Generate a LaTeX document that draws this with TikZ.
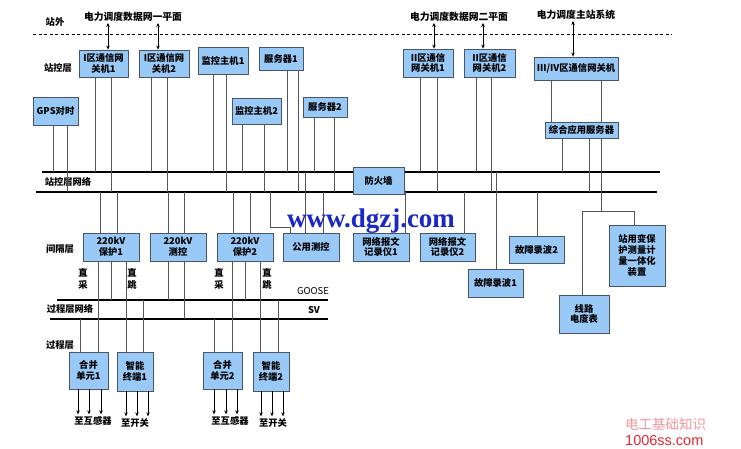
\documentclass[tikz,border=0pt]{standalone}
\usepackage{fontspec}
\setmainfont{Noto Sans CJK SC}
\newfontfamily\wmserif{Liberation Serif}
\newfontfamily\wmsans{Liberation Sans}
\usetikzlibrary{arrows.meta}
\definecolor{boxfill}{RGB}{153,201,246}
\definecolor{boxline}{RGB}{72,86,104}
\definecolor{connc}{RGB}{85,85,85}
\definecolor{wmblue}{RGB}{28,40,196}
\definecolor{wmpink}{RGB}{240,150,160}
\definecolor{wmred}{RGB}{226,40,50}
\newcommand\bx[6]{\node[box,minimum width=\fpeval{#4-#2}pt,minimum height=\fpeval{#5-#3}pt] (#1) at ({(#2+#4)/2},{(#3+#5)/2}) {#6};}
\newcommand\vc[3]{\draw[conn] (#2 -| #1,0) -- (#3 -| #1,0);}
\begin{document}
\begin{tikzpicture}[x=1pt,y=-1pt,
  box/.style={draw=boxline,fill=boxfill,line width=0.8pt,inner sep=1pt,align=center,
    font=\bfseries\fontsize{9.3}{10.8}\selectfont},
  conn/.style={draw=connc,line width=0.9pt},
  net/.style={draw=black,line width=1.6pt},
  lbl/.style={inner sep=1pt,align=center,font=\bfseries\fontsize{9.3}{12}\selectfont},
  toplbl/.style={inner sep=1pt,font=\bfseries\fontsize{9.8}{11}\selectfont},
  darr/.style={line width=0.7pt,{Stealth[length=4pt,width=3.5pt]}-{Stealth[length=4pt,width=3.5pt]}},
  dnarr/.style={line width=0.7pt,-{Stealth[length=4pt,width=3.5pt]}}]
\useasboundingbox (0,0) rectangle (741,448);
\fill[white] (0,0) rectangle (741,448);

% reference coordinates of the buses
\coordinate (netA) at (0,172);
\coordinate (netB) at (0,192);
\coordinate (goose) at (0,300);
\coordinate (sv) at (0,319);
\coordinate (barz) at (0,211);

% dashed border station / outside
\draw[line width=0.7pt,dash pattern=on 3pt off 2.5pt] (33,34) -- (672,34);

% buses
\draw[net] (42,172) -- (660,172);
\draw[net] (36,192) -- (657,192);
\draw[net] (57,300) -- (328,300);
\draw[net] (50,319) -- (328,319);

% left labels
\node[lbl] (l1) at (55,22) {站外};
\node[lbl] (l2) at (58,68) {站控层};
\node[lbl] (l3) at (68,182) {站控层网络};
\node[lbl] (l4) at (60,249) {间隔层};
\node[lbl] (l5) at (70,309) {过程层网络};
\node[lbl] (l6) at (60,345) {过程层};
\node[inner sep=1pt,font=\fontsize{9.5}{10}\selectfont] (lg) at (313,291) {GOOSE};
\node[lbl] (lsv) at (314,310) {SV};

% top labels
\node[toplbl] (t1) at (133,17) {电力调度数据网一平面};
\node[toplbl] (t2) at (459,17) {电力调度数据网二平面};
\node[toplbl] (t3) at (576,15) {电力调度主站系统};

% boxes
\bx{gw1}{79}{50}{128}{77}{I区通信网\\关机1}
\bx{gw2}{139}{50}{189}{77}{I区通信网\\关机2}
\bx{mon1}{198}{47}{248}{74}{监控主机1}
\bx{srv1}{259}{47}{303}{70}{服务器1}
\bx{mon2}{232}{98}{281}{124}{监控主机2}
\bx{srv2}{303}{97}{347}{117}{服务器2}
\bx{gps}{33}{97}{78}{125}{GPS对时}
\bx{ii1}{403}{49}{453}{77}{II区通信\\网关机1}
\bx{ii2}{464}{49}{515}{77}{II区通信\\网关机2}
\bx{p1}{83}{233}{139}{261}{220kV\\保护1}
\bx{ck}{150}{233}{206}{261}{220kV\\测控}
\bx{p2}{217}{233}{273}{261}{220kV\\保护2}
\bx{gyck}{283}{233}{339}{261}{公用测控}
\bx{rec1}{353}{233}{409}{261}{网络报文\\记录仪1}
\bx{rec2}{420}{233}{475}{261}{网络报文\\记录仪2}
\bx{gz2}{509}{236}{564}{263}{故障录波2}
\bx{gz1}{468}{269}{523}{297}{故障录波1}
\bx{zyb}{609}{225}{665}{286}{站用变保\\护测量计\\量一体化\\装置}
\bx{db}{559}{295}{609}{333}{线路\\电度表}
\bx{mu1}{69}{352}{108}{389}{合并\\单元1}
\bx{it1}{117}{352}{153}{391}{智能\\终端1}
\bx{mu2}{203}{352}{242}{389}{合并\\单元2}
\bx{it2}{253}{352}{289}{391}{智能\\终端2}
\bx{gw34}{534}{57}{618}{80}{III/IV区通信网关机}
\bx{zh}{545}{122}{618}{138}{综合应用服务器}

% station level to network
\vc{53}{gps.south}{netA}  \vc{67}{gps.south}{netB}
\vc{95}{gw1.south}{netA}  \vc{111}{gw1.south}{netB}
\vc{151}{gw2.south}{netA} \vc{167}{gw2.south}{netB}
\vc{213}{mon1.south}{netA} \vc{226}{mon1.south}{netB}
\vc{242}{mon2.south}{netA} \vc{264}{mon2.south}{netB}
\vc{287}{srv1.south}{netA} \vc{298}{srv1.south}{netB}
\vc{314}{srv2.south}{netA} \vc{334}{srv2.south}{netB}
\vc{420}{ii1.south}{netA} \vc{437}{ii1.south}{netB}
\vc{476}{ii2.south}{netA} \vc{491}{ii2.south}{netB}
\vc{551}{gw34.south}{zh.north} \vc{601}{gw34.south}{zh.north}
\vc{562}{zh.south}{netA} \vc{589}{zh.south}{netB}
\vc{601}{zh.south}{barz}
\draw[conn] (db.north -| 582,0) -- (barz -| 582,0) -- (barz -| 634,0) -- (zyb.north -| 634,0);

% bay level to network
\vc{100}{netB}{p1.north} \vc{117}{netB}{p1.north}
\vc{168}{netB}{ck.north} \vc{184}{netB}{ck.north}
\vc{233}{netB}{p2.north} \vc{250}{netB}{p2.north}
\vc{305}{netA}{gyck.north} \vc{323}{netB}{gyck.north}
\draw[conn] (netB -| 270,0) -- (270,227) -- (290,227) -- (gyck.north -| 290,0);
\vc{405}{netB}{rec1.north} \vc{464}{netB}{rec2.north}
\vc{496}{netA}{gz1.north} \vc{537}{netB}{gz2.north}

% bay level to process level
\vc{98}{p1.south}{mu1.north}  \vc{111}{p1.south}{goose} \vc{126}{p1.south}{it1.north}
\vc{80}{mu1.north}{sv}        \vc{143}{it1.north}{goose}
\vc{168}{ck.south}{goose}     \vc{184}{ck.south}{sv}
\vc{232}{p2.south}{mu2.north} \vc{245}{p2.south}{goose} \vc{260}{p2.south}{it2.north}
\vc{214}{mu2.north}{sv}       \vc{278}{it2.north}{goose}

% firewall sits on the buses
\bx{fw}{353}{167}{404}{194}{防火墙}

% direct sampling / tripping labels
\node[lbl] (zc1) at (83,279) {直\\采};
\node[lbl] (zt1) at (132,279) {直\\跳};
\node[lbl] (zc2) at (219,279) {直\\采};
\node[lbl] (zt2) at (267,279) {直\\跳};

% upward double arrows
\draw[darr] (t1.south -| 108,0) -- (gw1.north -| 108,0);
\draw[darr] (t1.south -| 158,0) -- (gw2.north -| 158,0);
\draw[darr] (t2.south -| 434,0) -- (ii1.north -| 434,0);
\draw[darr] (t2.south -| 483,0) -- (ii2.north -| 483,0);
\draw[darr] (t3.south -| 573,0) -- (gw34.north -| 573,0);

% process outputs
\node[lbl,inner sep=2pt] (tm1) at (93,421) {至互感器};
\node[lbl,inner sep=2pt] (tk1) at (135,423) {至开关};
\node[lbl,inner sep=2pt] (tm2) at (230,421) {至互感器};
\node[lbl,inner sep=2pt] (tk2) at (273,423) {至开关};
\foreach \x in {78,89,101} \draw[dnarr] (mu1.south -| \x,0) -- (tm1.north -| \x,0);
\foreach \x in {126,137,148} \draw[dnarr] (it1.south -| \x,0) -- (tk1.north -| \x,0);
\foreach \x in {214,226,237} \draw[dnarr] (mu2.south -| \x,0) -- (tm2.north -| \x,0);
\foreach \x in {261,272,283} \draw[dnarr] (it2.south -| \x,0) -- (tk2.north -| \x,0);

% watermarks
\node[text=wmblue,inner sep=0pt,font=\wmserif\bfseries\fontsize{27}{27}\selectfont] (wm) at (371,221) {www.dgzj.com};
\node[text=wmpink,anchor=west,inner sep=0pt,font=\fontsize{13.5}{14}\selectfont] (wm2) at (625,424) {电工基础知识};
\node[text=wmred,anchor=west,inner sep=0pt,font=\wmsans\fontsize{14.5}{15}\selectfont] (wm3) at (625,440) {1006ss.com};
\end{tikzpicture}
\end{document}
